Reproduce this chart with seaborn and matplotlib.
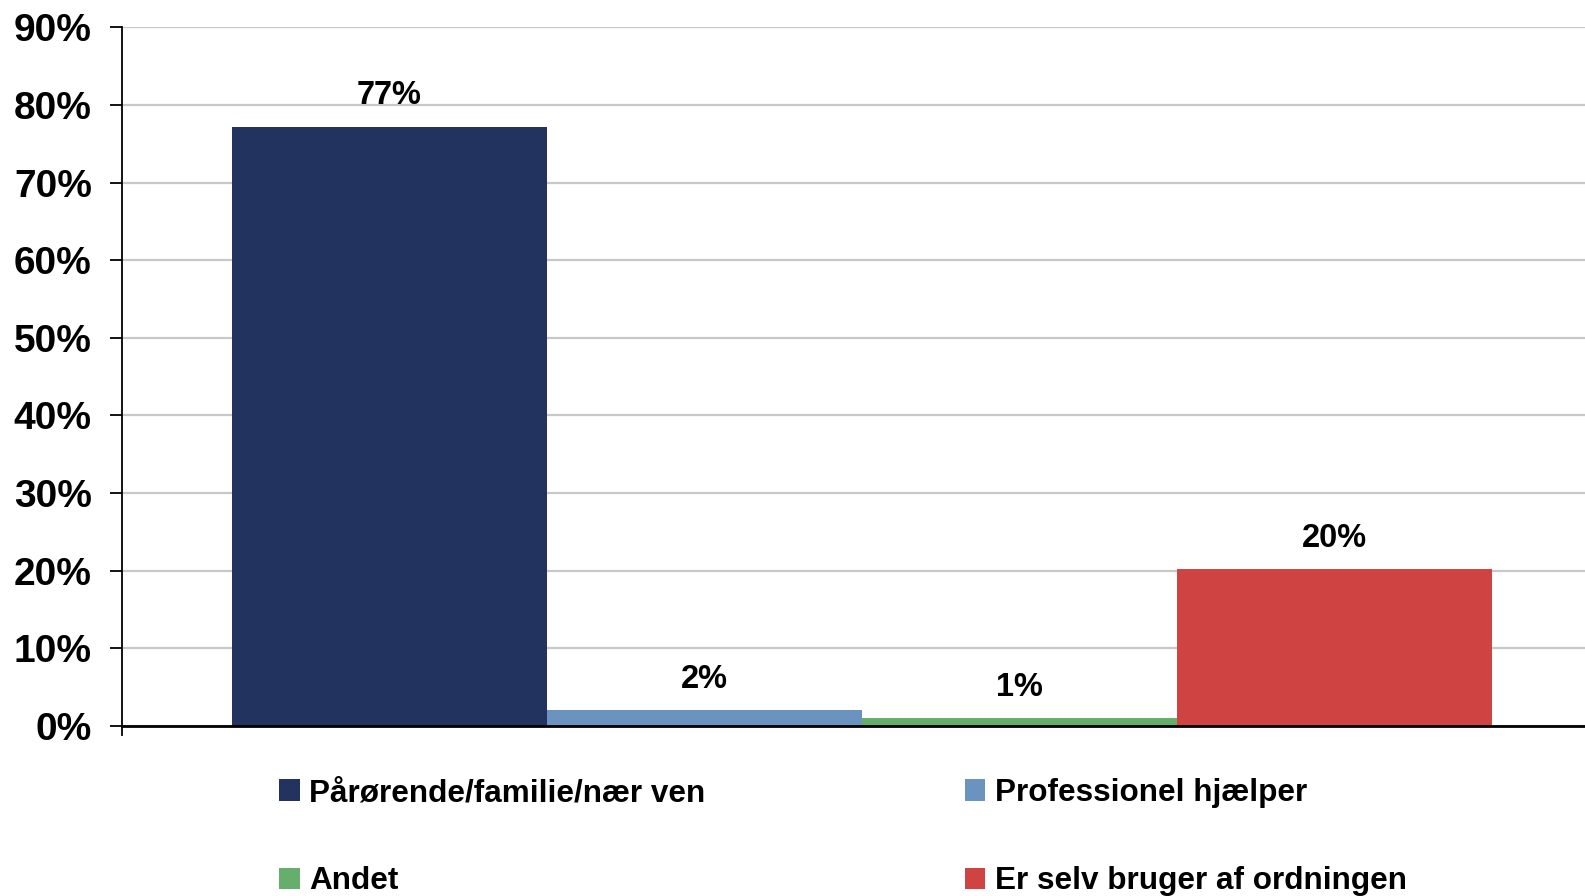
import numpy as np
import pandas as pd
import matplotlib
matplotlib.use("Agg")
import matplotlib.pyplot as plt
from matplotlib.ticker import PercentFormatter, MultipleLocator
import seaborn as sns

# data
categories = ["Pårørende/familie/nær ven", "Professionel hjælper", "Andet", "Er selv bruger af ordningen"]
shares = [0.772, 0.020, 0.010, 0.202]
colors = ["#21335E", "#6B93C0", "#65AE6B", "#D04343"]

df = pd.DataFrame({"category": categories, "share": shares})

sns.set_style("white")
plt.rcParams["font.family"] = ["Liberation Sans", "DejaVu Sans"]
plt.rcParams["font.weight"] = "bold"
plt.rcParams["text.color"] = "black"
plt.rcParams["ytick.color"] = "black"

fig = plt.figure(figsize=(15.85, 8.96), dpi=100)
ax = fig.add_axes([0.0772, 0.1797, 0.9228, 0.7898])

sns.barplot(data=df, x="category", y="share", hue="category", palette=colors,
            width=1.0, saturation=1, linewidth=0, legend=True, ax=ax, zorder=3)

ax.set_xlim(-0.847, 3.795)
ax.set_ylim(-0.0116, 0.9)
ax.yaxis.set_major_locator(MultipleLocator(0.1))
ax.yaxis.set_major_formatter(PercentFormatter(1.0, decimals=0))
ax.grid(axis="y", color="#C8C8C8", linewidth=1.6, zorder=0)
ax.set_axisbelow(True)

ax.set_xlabel("")
ax.set_ylabel("")
ax.set_xticks([])
ax.tick_params(axis="y", left=True, length=9, width=1.3, color="black", pad=13,
               labelsize=28, labelcolor="black")
for lab in ax.get_yticklabels():
    lab.set_fontweight("bold")

for side in ["top", "right"]:
    ax.spines[side].set_visible(False)
ax.spines["left"].set_color("black")
ax.spines["left"].set_linewidth(1.3)
ax.spines["bottom"].set_position(("data", 0))
ax.spines["bottom"].set_color("black")
ax.spines["bottom"].set_linewidth(2)
ax.spines["bottom"].set_zorder(4)

# value labels above the bars
for i, v in enumerate(shares):
    ax.annotate(f"{v * 100:.0f}%", (i, v), xytext=(0, 11), textcoords="offset points",
                ha="center", va="bottom", fontsize=23.5, fontweight="bold", color="black")

# legend: two columns, row-wise order as in the reference
handles, labels = ax.get_legend_handles_labels()
ax.get_legend().remove()
order = [0, 2, 1, 3]
leg = fig.legend([handles[i] for i in order], [labels[i] for i in order],
                 ncol=2, loc="upper left", bbox_to_anchor=(279 / 1585, 1 - 778 / 896),
                 frameon=False, prop={"weight": "bold", "size": 22.7},
                 handlelength=0.66, handleheight=0.66, handletextpad=0.3,
                 labelspacing=1.85, columnspacing=8.22, borderpad=0, borderaxespad=0)
for t in leg.get_texts():
    t.set_color("black")

fig.savefig("out.png", dpi=100)
